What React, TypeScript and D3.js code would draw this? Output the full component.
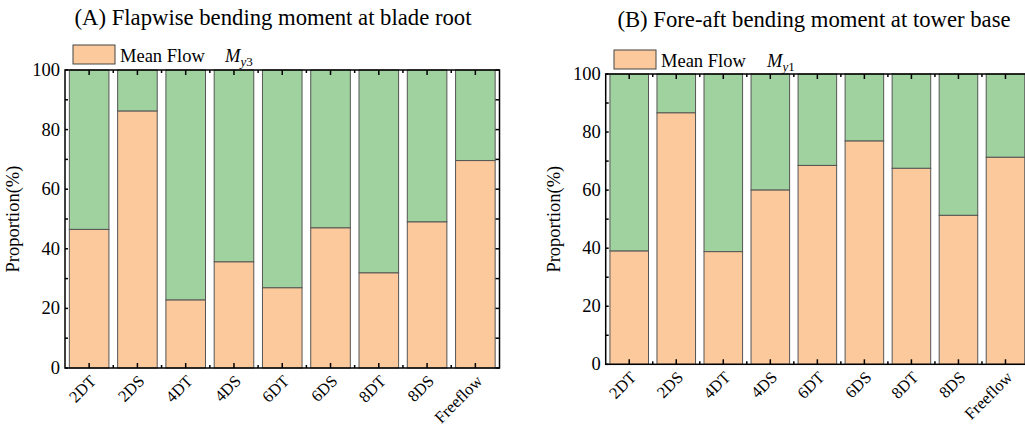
import React from 'react';
import * as d3 from 'd3';

const categories = ['2DT', '2DS', '4DT', '4DS', '6DT', '6DS', '8DT', '8DS', 'Freeflow'];
const meanFlowA = [46.5, 86.2, 22.8, 35.6, 26.9, 47.0, 31.9, 49.0, 69.6];
const meanFlowB = [39.0, 86.6, 38.8, 60.0, 68.5, 76.9, 67.5, 51.3, 71.3];
const yTicks = [0, 20, 40, 60, 80, 100];

const ORANGE = '#fbc99b';
const GREEN = '#9fd29f';
const FONT = "'Liberation Serif', 'Times New Roman', serif";

interface PanelProps {
  title: string;
  sub: string;
  values: number[];
  left: number;
  right: number;
  top: number;
  bottom: number;
  titleX: number;
  titleY: number;
  legendX: number;
  legendY: number;
  symX: number;
}

const Panel: React.FC<PanelProps> = (p) => {
  const x = d3.scaleBand<string>().domain(categories).range([p.left, p.right]).paddingInner(0.18).paddingOuter(0.09);
  const y = d3.scaleLinear().domain([0, 100]).range([p.bottom, p.top]);
  const step = x.step();
  const minor = d3.range(0, 110, 10);

  return (
    <g fill="#000">
      <text x={p.titleX} y={p.titleY} fontSize={22.7} textAnchor="middle">{p.title}</text>

      {/* legend */}
      <rect x={p.legendX} y={p.legendY} width={42} height={19} fill={ORANGE} stroke="#444" strokeWidth={1} />
      <text x={p.legendX + 47} y={p.legendY + 17} fontSize={18.5}>Mean Flow</text>
      <text x={p.symX} y={p.legendY + 17} fontSize={18.5} fontStyle="italic">
        M<tspan fontSize={13} dy={4}>y</tspan>
        <tspan fontSize={13} fontStyle="normal">{p.sub}</tspan>
      </text>

      {/* bars */}
      {categories.map((c, i) => {
        const bx = x(c)!;
        const w = x.bandwidth();
        const v = p.values[i];
        return (
          <g key={c}>
            <rect x={bx} y={y(100)} width={w} height={y(v) - y(100)} fill={GREEN} stroke="#555" strokeWidth={1} />
            <rect x={bx} y={y(v)} width={w} height={y(0) - y(v)} fill={ORANGE} stroke="#555" strokeWidth={1} />
          </g>
        );
      })}

      {/* frame */}
      <rect x={p.left} y={p.top} width={p.right - p.left} height={p.bottom - p.top} fill="none" stroke="#000" strokeWidth={1.5} />

      {/* x ticks */}
      {categories.map((c) => {
        const cx = x(c)! + x.bandwidth() / 2;
        return (
          <g key={`t-${c}`} stroke="#000" strokeWidth={1.5}>
            <line x1={cx} x2={cx} y1={p.bottom} y2={p.bottom - 5} />
            <line x1={cx} x2={cx} y1={p.top} y2={p.top + 5} />
          </g>
        );
      })}
      {categories.slice(1).map((c) => {
        const bx = x(c)! - (step - x.bandwidth()) / 2;
        return (
          <g key={`m-${c}`} stroke="#000" strokeWidth={1.5}>
            <line x1={bx} x2={bx} y1={p.bottom} y2={p.bottom - 3} />
            <line x1={bx} x2={bx} y1={p.top} y2={p.top + 3} />
          </g>
        );
      })}

      {/* y ticks */}
      {minor.map((v) => (
        <g key={`y-${v}`} stroke="#000" strokeWidth={1.5}>
          <line x1={p.left} x2={p.left + 3} y1={y(v)} y2={y(v)} />
          <line x1={p.right} x2={p.right - 4} y1={y(v)} y2={y(v)} />
        </g>
      ))}
      {yTicks.map((v) => (
        <text key={`yl-${v}`} x={p.left - 5} y={y(v) + 6} fontSize={18.5} textAnchor="end">{v}</text>
      ))}

      <text
        transform={`translate(${p.left - 46},${(p.top + p.bottom) / 2}) rotate(-90)`}
        fontSize={18.5}
        textAnchor="middle"
      >
        Proportion(%)
      </text>

      {categories.map((c) => {
        const cx = x(c)! + x.bandwidth() / 2;
        return (
          <text
            key={`xl-${c}`}
            transform={`translate(${cx + 8},${p.bottom + 14}) rotate(-45)`}
            fontSize={16.5}
            textAnchor="end"
          >
            {c}
          </text>
        );
      })}
    </g>
  );
};

export default function App() {
  return (
    <svg
      width={1025}
      height={428}
      style={{ position: 'absolute', left: 0, top: 0, background: '#fff', fontFamily: FONT }}
    >
      <Panel
        title="(A) Flapwise bending moment at blade root"
        sub="3"
        values={meanFlowA}
        left={65}
        right={499.5}
        top={70}
        bottom={368}
        titleX={273}
        titleY={25}
        legendX={73}
        legendY={45}
        symX={225}
      />
      <Panel
        title="(B) Fore-aft bending moment at tower base"
        sub="1"
        values={meanFlowB}
        left={605.7}
        right={1029}
        top={74}
        bottom={364.3}
        titleX={814}
        titleY={27}
        legendX={614}
        legendY={50}
        symX={767}
      />
    </svg>
  );
}
